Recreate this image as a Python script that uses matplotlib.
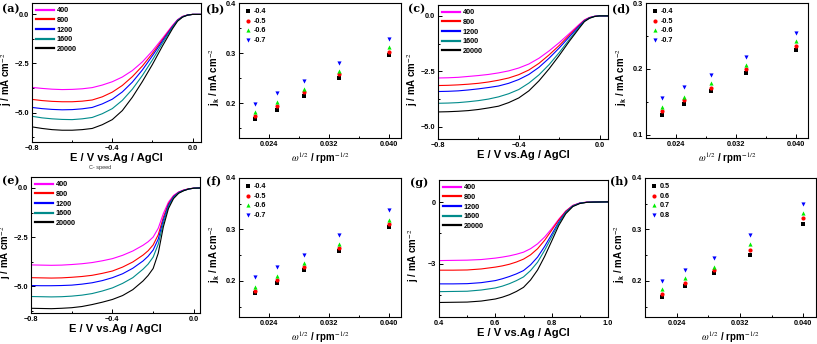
import numpy as np
import matplotlib.pyplot as plt
from matplotlib.ticker import AutoMinorLocator

plt.rcParams['font.family'] = ['Liberation Sans', 'DejaVu Sans']
plt.rcParams['mathtext.fontset'] = 'stix'

speeds = ['400', '800', '1200', '1600', '20000']
line_colors = ['#ff00ff', '#ff0000', '#0000ff', '#008b8b', '#000000']

# LSV curves (E in V, j in mA cm-2)
E_a = [-0.8, -0.75, -0.7, -0.65, -0.6, -0.55, -0.5, -0.45, -0.4, -0.35, -0.3, -0.25, -0.2,
       -0.15, -0.1, -0.075, -0.05, -0.025, 0.0, 0.04]
j_a = [
    [-3.72, -3.77, -3.81, -3.83, -3.82, -3.79, -3.73, -3.60, -3.43, -3.19, -2.86, -2.42, -1.86, -1.22, -0.56, -0.27, -0.10, -0.03, 0, 0],
    [-4.33, -4.39, -4.43, -4.45, -4.45, -4.42, -4.36, -4.20, -3.96, -3.62, -3.17, -2.63, -1.99, -1.29, -0.60, -0.29, -0.11, -0.03, 0, 0],
    [-4.74, -4.80, -4.84, -4.86, -4.85, -4.81, -4.74, -4.56, -4.32, -3.95, -3.45, -2.83, -2.11, -1.36, -0.63, -0.30, -0.12, -0.03, 0, 0],
    [-5.19, -5.27, -5.32, -5.35, -5.36, -5.32, -5.25, -5.06, -4.80, -4.38, -3.81, -3.11, -2.32, -1.46, -0.67, -0.32, -0.13, -0.04, 0, 0],
    [-5.73, -5.81, -5.87, -5.90, -5.90, -5.87, -5.81, -5.62, -5.36, -4.90, -4.22, -3.42, -2.55, -1.61, -0.73, -0.35, -0.14, -0.04, 0, 0],
]

E_c = E_a
j_c = [
    [-2.80, -2.79, -2.77, -2.73, -2.69, -2.64, -2.57, -2.48, -2.35, -2.17, -1.91, -1.58, -1.21, -0.80, -0.38, -0.18, -0.07, -0.02, 0, 0],
    [-3.14, -3.13, -3.11, -3.08, -3.04, -2.98, -2.90, -2.80, -2.65, -2.44, -2.14, -1.76, -1.34, -0.87, -0.42, -0.20, -0.08, -0.02, 0, 0],
    [-3.41, -3.40, -3.38, -3.34, -3.29, -3.23, -3.16, -3.04, -2.87, -2.64, -2.32, -1.91, -1.45, -0.95, -0.45, -0.22, -0.09, -0.02, 0, 0],
    [-3.94, -3.93, -3.91, -3.87, -3.82, -3.75, -3.65, -3.51, -3.32, -3.03, -2.66, -2.20, -1.66, -1.07, -0.50, -0.24, -0.10, -0.03, 0, 0],
    [-4.33, -4.32, -4.30, -4.27, -4.22, -4.15, -4.07, -3.91, -3.70, -3.38, -2.93, -2.39, -1.79, -1.15, -0.55, -0.26, -0.11, -0.03, 0, 0],
]

E_e = [-0.8, -0.75, -0.7, -0.65, -0.6, -0.55, -0.5, -0.45, -0.4, -0.35, -0.3, -0.25, -0.225,
       -0.2, -0.175, -0.15, -0.125, -0.1, -0.075, -0.05, -0.025, 0.0, 0.03]
j_e = [
    [-3.92, -3.93, -3.94, -3.93, -3.90, -3.86, -3.80, -3.71, -3.60, -3.43, -3.21, -2.92, -2.74, -2.50, -2.05, -1.30, -0.72, -0.38, -0.20, -0.10, -0.04, -0.01, 0],
    [-4.57, -4.58, -4.59, -4.58, -4.55, -4.51, -4.45, -4.35, -4.23, -4.03, -3.77, -3.42, -3.20, -2.90, -2.38, -1.50, -0.80, -0.42, -0.22, -0.11, -0.04, -0.01, 0],
    [-4.97, -4.98, -4.98, -4.97, -4.95, -4.90, -4.83, -4.72, -4.57, -4.37, -4.09, -3.72, -3.48, -3.16, -2.60, -1.63, -0.87, -0.45, -0.23, -0.12, -0.05, -0.01, 0],
    [-5.53, -5.54, -5.55, -5.54, -5.51, -5.46, -5.38, -5.25, -5.09, -4.86, -4.57, -4.14, -3.88, -3.52, -2.86, -1.79, -0.95, -0.49, -0.25, -0.13, -0.05, -0.01, 0],
    [-6.13, -6.14, -6.15, -6.13, -6.10, -6.04, -5.94, -5.82, -5.68, -5.48, -5.18, -4.74, -4.46, -4.10, -3.32, -1.98, -1.05, -0.54, -0.27, -0.14, -0.05, -0.01, 0],
]

E_g = [0.4, 0.45, 0.5, 0.55, 0.6, 0.625, 0.65, 0.675, 0.7, 0.725, 0.75, 0.775, 0.8, 0.825,
       0.85, 0.875, 0.9, 0.925, 0.95, 1.0]
j_g = [
    [-2.84, -2.83, -2.82, -2.79, -2.72, -2.67, -2.61, -2.53, -2.43, -2.26, -2.02, -1.69, -1.28, -0.82, -0.42, -0.14, -0.02, 0.02, 0.03, 0.05],
    [-3.31, -3.31, -3.30, -3.25, -3.16, -3.10, -3.02, -2.91, -2.77, -2.56, -2.26, -1.85, -1.36, -0.86, -0.43, -0.15, -0.03, 0.01, 0.02, 0.03],
    [-3.98, -3.98, -3.97, -3.92, -3.82, -3.73, -3.62, -3.49, -3.33, -3.05, -2.67, -2.15, -1.56, -0.96, -0.47, -0.17, -0.03, 0.01, 0.02, 0.03],
    [-4.36, -4.35, -4.34, -4.28, -4.18, -4.09, -3.97, -3.82, -3.64, -3.33, -2.92, -2.34, -1.69, -1.03, -0.50, -0.18, -0.04, 0.01, 0.02, 0.03],
    [-4.89, -4.88, -4.87, -4.82, -4.72, -4.63, -4.51, -4.35, -4.15, -3.79, -3.30, -2.64, -1.89, -1.13, -0.55, -0.20, -0.05, 0.01, 0.02, 0.03],
]

# K-L points
w_half = [0.0221, 0.0250, 0.0287, 0.0333, 0.0400]
kl_labels_neg = ['-0.4', '-0.5', '-0.6', '-0.7']
kl_labels_pos = ['0.5', '0.6', '0.7', '0.8']
jk_b = [
    [0.169, 0.187, 0.215, 0.251, 0.297],
    [0.175, 0.195, 0.222, 0.258, 0.303],
    [0.183, 0.203, 0.229, 0.265, 0.312],
    [0.199, 0.221, 0.244, 0.281, 0.329],
]
jk_d = [
    [0.130, 0.146, 0.166, 0.194, 0.229],
    [0.136, 0.153, 0.171, 0.200, 0.235],
    [0.142, 0.157, 0.178, 0.206, 0.242],
    [0.155, 0.172, 0.190, 0.218, 0.255],
]
jk_f = [
    [0.176, 0.197, 0.222, 0.258, 0.305],
    [0.181, 0.202, 0.228, 0.264, 0.310],
    [0.189, 0.210, 0.235, 0.272, 0.318],
    [0.207, 0.228, 0.251, 0.289, 0.337],
]
jk_h = [
    [0.169, 0.190, 0.215, 0.250, 0.310],
    [0.175, 0.197, 0.222, 0.260, 0.323],
    [0.184, 0.205, 0.228, 0.271, 0.332],
    [0.200, 0.222, 0.245, 0.290, 0.350],
]
markers = ['s', 'o', '^', 'v']
marker_colors = ['#000000', '#ff0000', '#00ee00', '#0000ff']

W, H = 817, 344
fig = plt.figure(figsize=(W / 100, H / 100), dpi=100)


def box(l, t, r, b):
    # pixel box -> figure axes
    return fig.add_axes([l / W, 1 - b / H, (r - l) / W, (b - t) / H])


def tag(x, y, s):
    fig.text(x / W, 1 - y / H, s, fontsize=8, fontweight='bold', family='DejaVu Serif',
             va='center', ha='left')


def style(ax):
    ax.tick_params(which='both', direction='in', labelsize=5.3, width=0.7, pad=2)
    ax.tick_params(which='major', length=3)
    ax.tick_params(which='minor', length=1.6)
    for s in ax.spines.values():
        s.set_linewidth(0.8)
    for lab in ax.get_xticklabels() + ax.get_yticklabels():
        lab.set_fontweight('bold')


def lsv(ax, E, curves, xlim, ylim, yticks, xticks):
    for c, lab, j in zip(line_colors, speeds, curves):
        ax.plot(E, j, color=c, lw=0.8, label=lab)
    ax.set_xlim(*xlim)
    ax.set_ylim(*ylim)
    ax.set_xticks(xticks)
    ax.set_yticks(yticks)
    ax.xaxis.set_minor_locator(AutoMinorLocator(2))
    ax.yaxis.set_minor_locator(AutoMinorLocator(2))
    ax.set_xlabel('E / V vs.Ag / AgCl', fontsize=8, fontweight='bold', labelpad=1)
    ax.set_ylabel('j / mA cm$^{-2}$', fontsize=7, fontweight='bold', labelpad=0)
    ax.yaxis.set_label_coords(-0.105, 0.45)
    leg = ax.legend(loc='upper left', frameon=False, fontsize=5.2, handlelength=2.4,
                    labelspacing=0.35, borderaxespad=0.2, handletextpad=0.4)
    for t in leg.get_texts():
        t.set_fontweight('bold')
    for ln in leg.get_lines():
        ln.set_linewidth(1.6)
    style(ax)


def kl(ax, data, labels, ylim, yticks):
    for m, c, lab, jk in zip(markers, marker_colors, labels, data):
        ax.scatter(w_half, jk, marker=m, color=c, s=9, lw=0, label=lab)
    ax.set_xlim(0.020, 0.0416)
    ax.set_ylim(*ylim)
    ax.set_xticks([0.024, 0.032, 0.040])
    ax.set_yticks(yticks)
    ax.xaxis.set_minor_locator(AutoMinorLocator(2))
    ax.yaxis.set_minor_locator(AutoMinorLocator(2))
    ax.set_xlabel(r'$\omega^{1/2}$ / rpm$^{-1/2}$', fontsize=7, fontweight='bold', labelpad=2)
    ax.set_ylabel(r'j$_\mathregular{k}$ / mA cm$^{-2}$', fontsize=7, fontweight='bold', labelpad=1)
    ax.yaxis.set_label_coords(-0.105, 0.45)
    leg = ax.legend(loc='upper left', frameon=False, fontsize=5.2, handlelength=1.0,
                    labelspacing=0.35, borderaxespad=0.3, handletextpad=0.4, scatterpoints=1)
    for t in leg.get_texts():
        t.set_fontweight('bold')
    style(ax)


ax_a = box(32, 3, 201, 142)
lsv(ax_a, E_a, j_a, (-0.8, 0.042), (-6.5, 0.58), [-5.0, -2.5, 0.0], [-0.8, -0.4, 0.0])
fig.text(100 / W, 1 - 167 / H, 'C- speed', fontsize=4, ha='center', va='center', color='#333333')

ax_b = box(239, 3, 401, 138)
kl(ax_b, jk_b, kl_labels_neg, (0.13, 0.4), [0.2, 0.3, 0.4])

ax_c = box(438, 5, 608, 139)
lsv(ax_c, E_c, j_c, (-0.8, 0.042), (-5.55, 0.49), [-5.0, -2.5, 0.0], [-0.8, -0.4, 0.0])

ax_d = box(646, 3, 808, 138)
kl(ax_d, jk_d, kl_labels_neg, (0.095, 0.3), [0.1, 0.2, 0.3])

ax_e = box(31, 177, 200, 313)
lsv(ax_e, E_e, j_e, (-0.8, 0.03), (-6.37, 0.56), [-5.0, -2.5, 0.0], [-0.8, -0.4, 0.0])

ax_f = box(239, 178, 401, 317)
kl(ax_f, jk_f, kl_labels_neg, (0.13, 0.4), [0.2, 0.3, 0.4])

ax_g = box(439, 180, 608, 317)
lsv(ax_g, E_g, j_g, (0.4, 1.0), (-5.6, 1.1), [-3, 0], [0.4, 0.6, 0.8, 1.0])

ax_h = box(645, 178, 816, 317)
kl(ax_h, jk_h, kl_labels_pos, (0.13, 0.4), [0.2, 0.3, 0.4])

# panel letters
tag(2, 9, '(a)')
tag(206, 9, '(b)')
tag(408, 9, '(c)')
tag(612, 9, '(d)')
tag(2, 181, '(e)')
tag(206, 181, '(f)')
tag(410, 182, '(g)')
tag(610, 181, '(h)')

fig.savefig('out.png', dpi=100)
